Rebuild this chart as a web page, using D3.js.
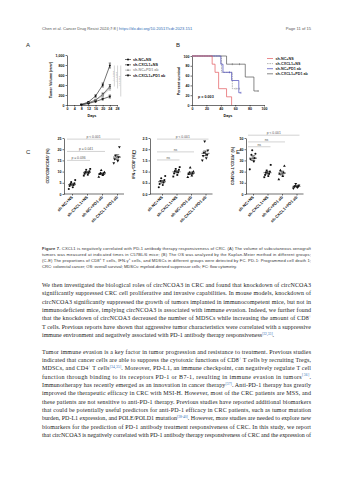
<!DOCTYPE html>
<html>
<head>
<meta charset="utf-8">
<script src="https://cdn.jsdelivr.net/npm/d3@7"></script>
<style>
  body { margin: 0; background: #fff; }
  svg { display: block; }
</style>
</head>
<body>
<svg id="page"></svg>
<script>
// ---- data ----
const groups = ["sh-NC+NS", "sh-CXCL1+NS", "sh-NC+PD1 ab", "sh-CXCL1+PD1 ab"];

// A: tumour volume (mm3) by day
const aDays = [8, 12, 16, 20, 24];
const aNCNS = [10, 60, 180, 400, 790];
const aCXNS = [8, 40, 100, 210, 370];
const aNCPD = [8, 35, 90, 190, 330];
const aCXPD = [5, 30, 70, 120, 170];
const aNCNSerr = [4, 10, 25, 40, 50];
const aCXNSerr = [3, 8, 15, 30, 40];
const aNCPDerr = [3, 8, 15, 25, 35];
const aCXPDerr = [2, 6, 12, 20, 30];
const aPvals = ["p = 0.006", "p = 0.004", "p < 0.001"];

// B: survival steps (days, percent)
const bTimeNCNS = [0, 28, 32, 37, 48, 55];
const bValNCNS = [100, 83.3, 66.7, 33.3, 16.7, 0];
const bTimeCXNS = [0, 41, 56, 66];
const bValCXNS = [100, 66.7, 33.3, 33.3];
const bTimeNCPD = [0, 40, 43, 55, 65, 68];
const bValNCPD = [100, 83.3, 66.7, 50, 25, 25];
const bTimeCXPD = [0, 48, 74, 86, 92];
const bValCXPD = [100, 83.3, 57.1, 28.6, 28.6];
const bCenCXNS = [61, 66];
const bCenNCPD = [52, 68];
const bCenCXPD = [56, 66, 92];
const bP = "p = 0.003";

// C: CD3+CD8+/CD45+ (%)
const cG1 = [2.2, 3.0, 3.6, 4.0, 4.4, 4.8, 5.3, 6.2];
const cG2 = [8.2, 8.6, 9.0, 9.4, 9.8, 10.2, 10.8, 11.2];
const cG3 = [7.6, 8.4, 8.8, 9.0, 9.3, 9.7, 10.6];
const cG4 = [13.8, 14.8, 15.6, 16.5, 17.2, 21.0];
// D: IFN-g+CD8+ (%)
const dG1 = [0.3, 0.4, 0.45, 0.52, 0.58, 0.62, 0.7, 0.8];
const dG2 = [0.78, 0.85, 0.92, 0.97, 1.02, 1.08, 1.12, 1.2];
const dG3 = [0.75, 0.82, 0.88, 0.92, 0.95, 1.0, 1.18];
const dG4 = [1.5, 1.6, 1.7, 1.75, 1.85, 1.95, 2.35];
// E: CD45+Gr-1+CD11b+ (%)
const eG1 = [22, 29, 31, 32, 35, 36, 39];
const eG2 = [15, 16, 17, 18, 19, 20, 21, 26];
const eG3 = [13, 16, 18, 19, 21, 25];
const eG4 = [5, 5.8, 6.3, 6.8, 7.2, 7.8, 9];

const cSig = [[0, 3, 24.5, "p < 0.001"], [0, 2, 19.0, "p = 0.041"], [0, 1, 15.0, "p = 0.036"]];
const dSig = [[0, 3, 2.45, "p < 0.001"], [0, 2, 1.88, "ns"], [0, 1, 1.52, "ns"]];
const eSig = [[0, 3, 52.5, "p < 0.001"], [0, 2, 46.5, "ns"], [0, 1, 42.2, "ns"]];

// ---- text ----
const header = "Chen et al. Cancer Drug Resist 2024;7:8 | [[https://dx.doi.org/10.20517/cdr.2023.151]]";
const pageNo = "Page 11 of 15";
const caption = [
  "**Figure 7.** CXCL1 is negatively correlated with PD-1 antibody therapy responsiveness of CRC. (A) The volume of subcutaneous xenograft",
  "tumors was measured at indicated times in C57BL/6 mice; (B) The OS was analyzed by the Kaplan-Meier method in different groups;",
  "(C-E) The proportions of CD8^{+} T cells, IFN-γ^{+} cells, and MDSCs in different groups were detected by FC. PD-1: Programmed cell death 1;",
  "CRC: colorectal cancer; OS: overall survival; MDSCs: myeloid-derived suppressor cells; FC: flow cytometry."
];
const para1 = [
  "We then investigated the biological roles of circNCOA3 in CRC and found that knockdown of circNCOA3",
  "significantly suppressed CRC cell proliferative and invasive capabilities. In mouse models, knockdown of",
  "circNCOA3 significantly suppressed the growth of tumors implanted in immunocompetent mice, but not in",
  "immunodeficient mice, implying circNCOA3 is associated with immune evasion. Indeed, we further found",
  "that the knockdown of circNCOA3 decreased the number of MDSCs while increasing the amount of CD8^{+}",
  "T cells. Previous reports have shown that aggressive tumor characteristics were correlated with a suppressive",
  "immune environment and negatively associated with PD-1 antibody therapy responsiveness^[32,33]."
];
const para2 = [
  "Tumor immune evasion is a key factor in tumor progression and resistance to treatment. Previous studies",
  "indicated that cancer cells are able to suppress the cytotoxic functions of CD8^{+} T cells by recruiting Tregs,",
  "MDSCs, and CD4^{+} T cells^[34,35]. Moreover, PD-L1, an immune checkpoint, can negatively regulate T cell",
  "function through binding to its receptors PD-1 or B7-1, resulting in immune evasion in tumors^[36].",
  "Immunotherapy has recently emerged as an innovation in cancer therapy^[37]. Anti-PD-1 therapy has greatly",
  "improved the therapeutic efficacy in CRC with MSI-H. However, most of the CRC patients are MSS, and",
  "these patients are not sensitive to anti-PD-1 therapy. Previous studies have reported additional biomarkers",
  "that could be potentially useful predictors for anti-PD-1 efficacy in CRC patients, such as tumor mutation",
  "burden, PD-L1 expression, and POLE/POLD1 mutation^[38-40]. However, more studies are needed to explore new",
  "biomarkers for the prediction of PD-1 antibody treatment responsiveness of CRC. In this study, we report",
  "that circNCOA3 is negatively correlated with PD-1 antibody therapy responsiveness of CRC and the expression of"
];

// ---- page ----
const W = 353, H = 480;
const svg = d3.select("#page").attr("width", W).attr("height", H);
svg.append("rect").attr("width", W).attr("height", H).attr("fill", "#fff");

const SANS = "Liberation Sans, Arial, sans-serif";
const SERIF = "Liberation Serif, Times New Roman, serif";
const LINK = "#2f6db5";

function richText(g, str, x, y, opt) {
  const t = g.append("text").attr("x", x).attr("y", y)
    .attr("font-family", opt.family).attr("font-size", opt.size)
    .attr("fill", opt.color || "#222");
  if (opt.width) t.attr("textLength", opt.width).attr("lengthAdjust", "spacing");
  if (opt.anchor) t.attr("text-anchor", opt.anchor);
  const parts = str.split(/(\^\{[^}]*\}|\^\[[^\]]*\]|\*\*[^*]*\*\*|\[\[[^\]]*\]\])/).filter(s => s.length);
  let shifted = 0;
  parts.forEach(p => {
    const s = t.append("tspan");
    let dy = 0;
    if (p.startsWith("^{")) {
      s.text(p.slice(2, -1)).attr("font-size", opt.size * 0.65);
      dy = -opt.size * 0.38;
    } else if (p.startsWith("^[")) {
      s.text("[" + p.slice(2, -1) + "]").attr("font-size", opt.size * 0.6).attr("fill", LINK);
      dy = -opt.size * 0.4;
    } else if (p.startsWith("**")) {
      s.text(p.slice(2, -2)).attr("font-weight", "bold");
    } else if (p.startsWith("[[")) {
      s.text(p.slice(2, -2)).attr("fill", LINK);
    } else s.text(p);
    s.attr("dy", dy - shifted);
    shifted = dy;
  });
  return t;
}

// header
richText(svg, header, 42, 30, { family: SANS, size: 4.1, color: "#555" });
richText(svg, pageNo, 311, 30, { family: SANS, size: 4.1, color: "#555", anchor: "end" });

// caption
caption.forEach((l, i) => {
  richText(svg, l, 42, 249.5 + i * 6, {
    family: SANS, size: 4.1, color: "#333",
    width: i < caption.length - 1 ? 269 : null
  });
});

// body
function paragraph(lines, y0) {
  lines.forEach((l, i) => {
    richText(svg, l, 42, y0 + i * 8.35, {
      family: SERIF, size: 6, color: "#222",
      width: (i < lines.length - 1 || lines === para2) ? 269 : null
    });
  });
}
paragraph(para1, 287);
paragraph(para2, 353.5);

// ---- chart helpers ----
const tickFont = g => g.selectAll("text")
  .attr("font-family", SANS).attr("font-size", 3.6).attr("font-weight", "bold").attr("fill", "#111");
const axisStyle = g => {
  g.selectAll("path,line").attr("stroke", "#111").attr("stroke-width", 0.6);
  tickFont(g);
};
function panelLabel(t, x, y) {
  svg.append("text").attr("x", x).attr("y", y).text(t)
    .attr("font-family", SANS).attr("font-size", 6).attr("fill", "#222");
}
function yTitle(str, x, y) {
  svg.append("text").attr("transform", `translate(${x},${y}) rotate(-90)`)
    .attr("text-anchor", "middle").text(str)
    .attr("font-family", SANS).attr("font-size", 3.7).attr("font-weight", "bold").attr("fill", "#111");
}
const shapes = [d3.symbolCircle, d3.symbolSquare, d3.symbolTriangle, d3.symbolTriangle];
function marker(g, i, x, y, size, color) {
  g.append("path").attr("d", d3.symbol(shapes[i], size)())
    .attr("transform", `translate(${x},${y})` + (i === 3 ? " rotate(180)" : ""))
    .attr("fill", color);
}

// ---- A: tumour volume ----
panelLabel("A", 26, 47);
const xA = d3.scaleLinear().domain([0, 28]).range([67, 117]);
const yA = d3.scaleLinear().domain([0, 1000]).range([105, 55]);
svg.append("g").attr("transform", "translate(0,105)")
  .call(d3.axisBottom(xA).tickValues([0, 4, 8, 12, 16, 20, 24, 28]).tickSize(1.5).tickSizeOuter(0).tickPadding(1))
  .call(axisStyle);
svg.append("g").attr("transform", "translate(67,0)")
  .call(d3.axisLeft(yA).tickValues([0, 200, 400, 600, 800, 1000]).tickSize(1.5).tickSizeOuter(0).tickPadding(1))
  .call(axisStyle);
svg.append("text").attr("x", 92).attr("y", 117).attr("text-anchor", "middle").text("Days")
  .attr("font-family", SANS).attr("font-size", 3.7).attr("font-weight", "bold");
yTitle("Tumor Volume (mm³)", 52, 80);

const aSeries = [
  { v: aNCNS, e: aNCNSerr, c: "#111" },
  { v: aCXNS, e: aCXNSerr, c: "#111" },
  { v: aNCPD, e: aNCPDerr, c: "#9a9a9a" },
  { v: aCXPD, e: aCXPDerr, c: "#111" }
];
const lineA = d3.line().x((d, i) => xA(aDays[i])).y(d => yA(d));
aSeries.forEach((s, k) => {
  const g = svg.append("g");
  g.append("path").attr("d", lineA(s.v)).attr("fill", "none").attr("stroke", s.c).attr("stroke-width", 0.6);
  s.v.forEach((v, i) => {
    const x = xA(aDays[i]);
    g.append("line").attr("x1", x).attr("x2", x).attr("y1", yA(v - s.e[i])).attr("y2", yA(v + s.e[i]))
      .attr("stroke", s.c).attr("stroke-width", 0.5);
    [v - s.e[i], v + s.e[i]].forEach(b => g.append("line").attr("x1", x - 1.2).attr("x2", x + 1.2)
      .attr("y1", yA(b)).attr("y2", yA(b)).attr("stroke", s.c).attr("stroke-width", 0.5));
    marker(g, k, x, yA(v), 3.2, s.c);
  });
});
// significance bars at last day
const last = aDays.length - 1;
aPvals.forEach((p, i) => {
  const x = xA(aDays[last]) + 4.5 + i * 3.2;
  const y1 = yA(aNCNS[last]), y2 = yA(aSeries[i + 1].v[last]);
  svg.append("line").attr("x1", x).attr("x2", x).attr("y1", y1).attr("y2", y2)
    .attr("stroke", "#aaa").attr("stroke-width", 0.5);
  svg.append("text").attr("transform", `translate(${x - 0.6},${(y1 + y2) / 2}) rotate(-90)`)
    .attr("text-anchor", "middle").text(p)
    .attr("font-family", SANS).attr("font-size", 2.4).attr("fill", "#888");
});
// legend A
groups.forEach((gname, i) => {
  const y = 59.5 + i * 5.3;
  const c = aSeries[i].c;
  svg.append("line").attr("x1", 125).attr("x2", 131).attr("y1", y).attr("y2", y).attr("stroke", c).attr("stroke-width", 0.6);
  marker(svg, i, 128, y, 3.2, c);
  svg.append("text").attr("x", 133).attr("y", y + 1.3).text(gname)
    .attr("font-family", SANS).attr("font-size", 3.7).attr("font-weight", "bold").attr("fill", c === "#111" ? "#111" : "#999");
});

// ---- B: survival ----
panelLabel("B", 176, 47);
const xB = d3.scaleLinear().domain([0, 100]).range([192, 264]);
const yB = d3.scaleLinear().domain([0, 100]).range([105, 56]);
svg.append("g").attr("transform", "translate(0,105)")
  .call(d3.axisBottom(xB).tickValues([0, 20, 40, 60, 80, 100]).tickSize(1.5).tickSizeOuter(0).tickPadding(1))
  .call(axisStyle);
svg.append("g").attr("transform", "translate(192,0)")
  .call(d3.axisLeft(yB).tickValues([0, 20, 40, 60, 80, 100]).tickSize(1.5).tickSizeOuter(0).tickPadding(1))
  .call(axisStyle);
svg.append("text").attr("x", 228).attr("y", 117).attr("text-anchor", "middle").text("Days")
  .attr("font-family", SANS).attr("font-size", 3.7).attr("font-weight", "bold");
yTitle("Percent survival", 180, 81);
svg.append("text").attr("x", 198).attr("y", 98).text(bP)
  .attr("font-family", SANS).attr("font-size", 3.7).attr("font-weight", "bold").attr("fill", "#111");

const bSeries = [
  { t: bTimeNCNS, v: bValNCNS, cen: [], c: "#e2585c", dash: null },
  { t: bTimeCXNS, v: bValCXNS, cen: bCenCXNS, c: "#9a9a9a", dash: "1.6,0.8" },
  { t: bTimeNCPD, v: bValNCPD, cen: bCenNCPD, c: "#4747b8", dash: null },
  { t: bTimeCXPD, v: bValCXPD, cen: bCenCXPD, c: "#555", dash: null }
];
const stepLine = d3.line().curve(d3.curveStepAfter).x(d => xB(d[0])).y(d => yB(d[1]));
[3, 1, 2, 0].forEach(k => {
  const s = bSeries[k];
  const pts = s.t.map((t, i) => [t, s.v[i]]);
  svg.append("path").attr("d", stepLine(pts)).attr("fill", "none")
    .attr("stroke", s.c).attr("stroke-width", 0.7).attr("stroke-dasharray", s.dash);
  s.cen.forEach(ct => {
    const idx = d3.bisectRight(s.t, ct) - 1;
    const y = yB(s.v[Math.max(0, idx)]);
    svg.append("line").attr("x1", xB(ct)).attr("x2", xB(ct)).attr("y1", y - 1).attr("y2", y + 1)
      .attr("stroke", s.c).attr("stroke-width", 0.5);
  });
});
groups.forEach((gname, i) => {
  const y = 58.5 + i * 5.1;
  const s = bSeries[i];
  svg.append("line").attr("x1", 267).attr("x2", 273).attr("y1", y).attr("y2", y)
    .attr("stroke", s.c).attr("stroke-width", 0.7).attr("stroke-dasharray", s.dash);
  svg.append("text").attr("x", 275.5).attr("y", y + 1.3).text(gname)
    .attr("font-family", SANS).attr("font-size", 3.7).attr("font-weight", "bold").attr("fill", "#222");
});

// ---- C-E: scatter panels ----
function scatterPanel(cfg) {
  panelLabel(cfg.label, cfg.lx, 154);
  const x = d3.scalePoint().domain(groups).range([cfg.x0 + cfg.gap, cfg.x0 + cfg.gap + 3 * cfg.step]);
  const y = d3.scaleLinear().domain([0, cfg.max]).range([194, 138]);
  const xAxis = d3.axisBottom(x).tickSize(1.5).tickSizeOuter(0).tickFormat("");
  svg.append("g").attr("transform", "translate(0,194)").call(xAxis).call(axisStyle)
    .select(".domain").attr("d", `M${cfg.x0},0H${cfg.x0 + cfg.gap + 3 * cfg.step + 7}`);
  svg.append("g").attr("transform", `translate(${cfg.x0},0)`)
    .call(d3.axisLeft(y).ticks(5).tickSize(1.5).tickSizeOuter(0).tickPadding(1).tickFormat(d3.format(cfg.fmt)))
    .call(axisStyle);
  groups.forEach(gn => {
    svg.append("text").attr("transform", `translate(${x(gn) + 1.2},${197.5}) rotate(-45)`)
      .attr("text-anchor", "end").text(gn)
      .attr("font-family", SANS).attr("font-size", 4.1).attr("font-weight", "bold").attr("fill", "#111");
  });
  yTitle(cfg.title, cfg.tx, 166);
  cfg.data.forEach((vals, k) => {
    const cx = x(groups[k]);
    const g = svg.append("g");
    vals.forEach((v, i) => marker(g, k, cx + (((i * 5) % 9) - 4) * 0.8, y(v), 3.4, "#111"));
    const m = d3.mean(vals), se = d3.deviation(vals) / Math.sqrt(vals.length);
    g.append("line").attr("x1", cx - 4).attr("x2", cx + 4).attr("y1", y(m)).attr("y2", y(m))
      .attr("stroke", "#111").attr("stroke-width", 0.6);
    g.append("line").attr("x1", cx).attr("x2", cx).attr("y1", y(m - se)).attr("y2", y(m + se))
      .attr("stroke", "#111").attr("stroke-width", 0.6);
    [m - se, m + se].forEach(b => g.append("line").attr("x1", cx - 2.2).attr("x2", cx + 2.2)
      .attr("y1", y(b)).attr("y2", y(b)).attr("stroke", "#111").attr("stroke-width", 0.6));
  });
  cfg.sig.forEach(([a, b, lv, txt]) => {
    const x1 = x(groups[a]) - 5, x2 = x(groups[b]) + 3, yy = y(lv);
    svg.append("line").attr("x1", x1).attr("x2", x2).attr("y1", yy).attr("y2", yy)
      .attr("stroke", "#b5b5b5").attr("stroke-width", 0.6);
    svg.append("text").attr("x", (x1 + x2) / 2).attr("y", yy - 1).attr("text-anchor", "middle").text(txt)
      .attr("font-family", SANS).attr("font-size", 3.4).attr("fill", "#555");
  });
}

scatterPanel({ label: "C", lx: 26, x0: 64, gap: 8, step: 15, max: 25, fmt: "d",
  title: "CD3⁺CD8⁺/CD45⁺ (%)", tx: 49, data: [cG1, cG2, cG3, cG4], sig: cSig });
scatterPanel({ label: "D", lx: 132, x0: 150, gap: 12, step: 14.5, max: 2.5, fmt: ".1f",
  title: "IFN-γ⁺CD8⁺ (%)", tx: 135, data: [dG1, dG2, dG3, dG4], sig: dSig });
scatterPanel({ label: "E", lx: 236, x0: 246, gap: 7, step: 14.5, max: 50, fmt: "d",
  title: "CD45⁺Gr-1⁺CD11b⁺ (%)", tx: 234, data: [eG1, eG2, eG3, eG4], sig: eSig });
</script>
</body>
</html>
